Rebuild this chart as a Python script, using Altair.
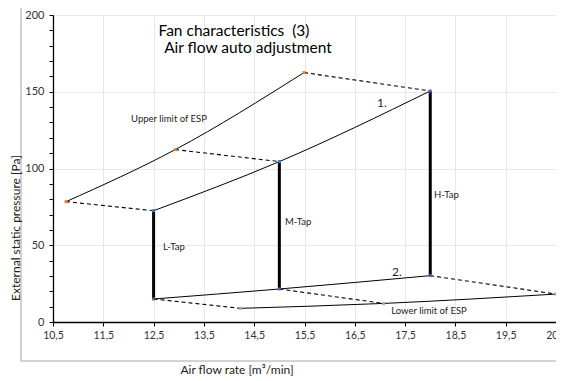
import altair as alt
import pandas as pd

# ---- data ----
upper_x = [10.76, 12.93, 15.49]
upper_y = [78.4, 112.3, 162.5]
curve1_x = [12.5, 15.0, 18.0]
curve1_y = [72.5, 104.5, 150.5]
curve2_x = [12.5, 15.0, 18.0]
curve2_y = [15.0, 21.5, 30.2]
lower_x = [14.23, 17.07, 20.5]
lower_y = [8.9, 12.1, 18.2]

tap_names = ["L-Tap", "M-Tap", "H-Tap"]
tap_x = [12.5, 15.0, 18.0]
tap_low = [15.0, 21.5, 30.2]
tap_high = [72.5, 104.5, 150.5]

x_ticks = [10.5, 11.5, 12.5, 13.5, 14.5, 15.5, 16.5, 17.5, 18.5, 19.5, 20.5]
y_ticks = list(range(0, 201, 10))

FONT = "Lato"

curves = pd.DataFrame(
    [{"s": "upper", "x": a, "y": b, "o": i} for i, (a, b) in enumerate(zip(upper_x, upper_y))]
    + [{"s": "c1", "x": a, "y": b, "o": i} for i, (a, b) in enumerate(zip(curve1_x, curve1_y))]
    + [{"s": "c2", "x": a, "y": b, "o": i} for i, (a, b) in enumerate(zip(curve2_x, curve2_y))]
    + [{"s": "lower", "x": a, "y": b, "o": i} for i, (a, b) in enumerate(zip(lower_x, lower_y))]
)

# dashed connectors: upper limit -> curve1, curve2 -> lower limit
dash_rows = []
for i in range(3):
    dash_rows.append({"g": f"u{i}", "x": upper_x[i], "y": upper_y[i], "o": 0})
    dash_rows.append({"g": f"u{i}", "x": curve1_x[i], "y": curve1_y[i], "o": 1})
    dash_rows.append({"g": f"l{i}", "x": curve2_x[i], "y": curve2_y[i], "o": 0})
    dash_rows.append({"g": f"l{i}", "x": lower_x[i], "y": lower_y[i], "o": 1})
dashes = pd.DataFrame(dash_rows)

taps = pd.DataFrame({"name": tap_names, "x": tap_x, "y": tap_low, "y2": tap_high})

points = pd.DataFrame(
    [{"x": a, "y": b, "c": "#ed7d31"} for a, b in zip(upper_x, upper_y)]
    + [{"x": a, "y": b, "c": "#4472c4"} for a, b in zip(curve1_x, curve1_y)]
    + [{"x": a, "y": b, "c": "#5b5fa8"} for a, b in zip(curve2_x, curve2_y)]
    + [{"x": a, "y": b, "c": "#8fa9dc"} for a, b in zip(lower_x, lower_y)]
)

xscale = alt.Scale(domain=[10.5, 20.5], nice=False, zero=False)
yscale = alt.Scale(domain=[0, 200], nice=False, zero=True)

xaxis = alt.Axis(
    values=x_ticks,
    labelExpr="replace(format(datum.value, '.1f'), '.', ',')",
    title=None,
    grid=True,
    gridColor="#e8e8e8",
    domainColor="#000000",
    domainWidth=1.3,
    tickColor="#000000",
    tickSize=4,
    labelPadding=4,
    labelFont=FONT,
    labelFontSize=10.5,
    labelColor="#333333",
    labelOverlap=False,
    labelFlush=False,
)
yaxis = alt.Axis(
    values=y_ticks,
    labelExpr="datum.value % 50 === 0 ? datum.label : ''",
    title=None,
    grid=True,
    gridColor={"condition": {"test": "datum.value % 50 === 0", "value": "#e8e8e8"}, "value": "#ffffff00"},
    domainColor="#000000",
    domainWidth=1.3,
    tickColor="#000000",
    tickSize=4,
    labelPadding=5,
    labelFont=FONT,
    labelFontSize=11,
    labelColor="#333333",
    labelOverlap=False,
    labelFlush=False,
)

X = alt.X("x:Q", scale=xscale, axis=xaxis)
Y = alt.Y("y:Q", scale=yscale, axis=yaxis)
Y2 = alt.Y2("y2:Q")

frame = alt.Chart(pd.DataFrame({"a": [0]})).mark_rect(
    fill=None, stroke="#a6a6a6", strokeWidth=1
).encode(x=alt.value(-32), x2=alt.value(620), y=alt.value(-8), y2=alt.value(346))

curve_layer = alt.Chart(curves).mark_line(
    color="#000000", strokeWidth=1, interpolate="monotone"
).encode(x=X, y=Y, detail="s:N", order="o:Q")

dash_layer = alt.Chart(dashes).mark_line(
    color="#000000", strokeWidth=1.1, strokeDash=[4, 3]
).encode(x=X, y=Y, detail="g:N", order="o:Q")

tap_layer = alt.Chart(taps).mark_rule(color="#000000", strokeWidth=3).encode(
    x=X, y=Y, y2=Y2
)

pt_layer = alt.Chart(points).mark_square(size=9, opacity=1).encode(
    x=X, y=Y, color=alt.Color("c:N", scale=None)
)

def label(txt, px, py, size, align="left", angle=0, color="#222222"):
    return alt.Chart(pd.DataFrame({"t": [txt]})).mark_text(
        font=FONT, fontSize=size, align=align, baseline="middle", angle=angle, color=color
    ).encode(text="t:N", x=alt.value(px), y=alt.value(py))

texts = [
    label("Fan characteristics \u00a0(3)", 181, 16, 15.5, "center", color="#000000"),
    label("Air flow auto adjustment", 195, 32.5, 15.5, "center", color="#000000"),
    label("Upper limit of ESP", 116, 104, 9.5, "center"),
    label("1.", 329, 88, 12, "center"),
    label("L-Tap", 110, 232, 9.5),
    label("M-Tap", 232, 207, 9.5),
    label("H-Tap", 381, 180, 9.5),
    label("2.", 344, 257, 12, "center"),
    label("Lower limit of ESP", 376, 296, 9.5, "center"),
    label("External static pressure [Pa]", -37, 213, 12, "center", angle=270),
    label("Air flow rate [m³/min]", 184, 355, 12, "center"),
]

chart = alt.layer(
    frame, curve_layer, dash_layer, tap_layer, pt_layer, *texts
).properties(
    width=503,
    height=307,
    padding={"left": 45, "top": 7, "right": 0, "bottom": 58},
    autosize=alt.AutoSizeParams(type="none"),
    background="#ffffff",
).configure_view(stroke="#7f7f7f", strokeWidth=1)

chart.save("out.html", embed_options={"renderer": "svg", "actions": False})
